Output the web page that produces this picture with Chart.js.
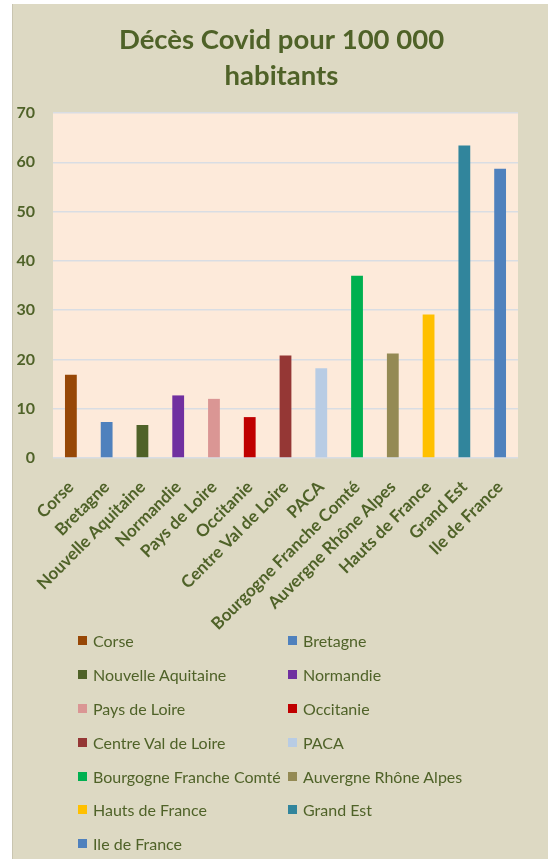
<!DOCTYPE html>
<html>
<head>
<meta charset="utf-8">
<script src="https://cdn.jsdelivr.net/npm/chart.js@4/dist/chart.umd.min.js"></script>
<style>
  html, body { margin: 0; padding: 0; background: #ffffff; }
  #panel { position: absolute; left: 12px; top: 4px; width: 536px; height: 855px; background: #DDD9C3; border-left: 1px solid #C9C5B0; box-sizing: border-box; }
  #wrap { position: absolute; left: 0; top: 0; width: 535px; height: 636px; }
  #legend { position: absolute; left: 65px; top: 620px; width: 470px; display: grid; grid-template-columns: 210px 230px; grid-auto-rows: 33.8px; font-family: Lato, "Open Sans", sans-serif; font-size: 16px; color: #4F6228; }
  #legend .it { display: flex; align-items: center; white-space: nowrap; }
  #legend .box { width: 9px; height: 9px; margin-right: 6px; flex: none; }
</style>
</head>
<body>
<div id="panel">
  <div id="wrap"><canvas id="c"></canvas></div>
  <div id="legend"></div>
</div>
<script>
const categories = ['Corse', 'Bretagne', 'Nouvelle Aquitaine', 'Normandie', 'Pays de Loire', 'Occitanie', 'Centre Val de Loire', 'PACA', 'Bourgogne Franche Comté', 'Auvergne Rhône Alpes', 'Hauts de France', 'Grand Est', 'Ile de France'];
const deaths = [16.9, 7.3, 6.7, 12.7, 12.0, 8.3, 20.8, 18.2, 37.0, 21.2, 29.1, 63.4, 58.7];
const barColors = ['#974706', '#4F81BD', '#4F6228', '#7030A0', '#DA9694', '#C00000', '#953735', '#B8CCE4', '#00B050', '#948A54', '#FFC000', '#31859C', '#4F81BD'];
const yTicks = [0, 10, 20, 30, 40, 50, 60, 70];
const titleLines = ['Décès Covid pour 100 000', 'habitants'];

const textColor = '#4F6228';

const plotBg = {
  id: 'plotBg',
  beforeDraw(chart) {
    const a = chart.chartArea, ctx = chart.ctx;
    ctx.save();
    ctx.fillStyle = '#FDEADA';
    ctx.fillRect(a.left, a.top, a.right - a.left, a.bottom - a.top);
    ctx.restore();
  }
};

new Chart(document.getElementById('c'), {
  type: 'bar',
  data: {
    labels: categories,
    datasets: [{
      label: 'Décès',
      data: deaths,
      backgroundColor: barColors,
      borderWidth: 0,
      barPercentage: 0.33,
      categoryPercentage: 1
    }]
  },
  options: {
    responsive: true,
    maintainAspectRatio: false,
    animation: false,
    layout: { padding: { left: 2, right: 0, top: 0, bottom: 0 } },
    plugins: {
      legend: { display: false },
      tooltip: { enabled: false },
      title: {
        display: true,
        text: titleLines,
        color: textColor,
        font: { family: 'Lato', size: 27.5, weight: 'bold', lineHeight: 1.31 },
        padding: { top: 18, bottom: 19 }
      }
    },
    scales: {
      x: {
        grid: { display: false, drawTicks: false },
        border: { display: false },
        ticks: {
          color: textColor,
          font: { family: 'Lato', size: 17, weight: 'bold' },
          minRotation: 45, maxRotation: 45,
          autoSkip: false,
          padding: 19
        },
        afterFit(s) { s.height = 182; }
      },
      y: {
        min: 0, max: 70,
        afterBuildTicks(s) { s.ticks = yTicks.map(v => ({ value: v })); },
        grid: { color: '#D9DDE3', lineWidth: 1.5, drawTicks: false },
        border: { display: false },
        ticks: {
          color: textColor,
          font: { family: 'Lato', size: 16, weight: 'bold' },
          padding: 18
        },
        afterFit(s) { s.width = 38; }
      },
      yRight: {
        position: 'right',
        display: true,
        min: 0, max: 70,
        grid: { display: false, drawTicks: false },
        border: { display: false },
        ticks: { display: false },
        afterFit(s) { s.width = 30; }
      }
    }
  },
  plugins: [plotBg]
});

const leg = document.getElementById('legend');
categories.forEach((name, i) => {
  const d = document.createElement('div');
  d.className = 'it';
  const b = document.createElement('span');
  b.className = 'box';
  b.style.background = barColors[i];
  const t = document.createElement('span');
  t.textContent = name;
  d.appendChild(b); d.appendChild(t);
  leg.appendChild(d);
});
</script>
</body>
</html>
